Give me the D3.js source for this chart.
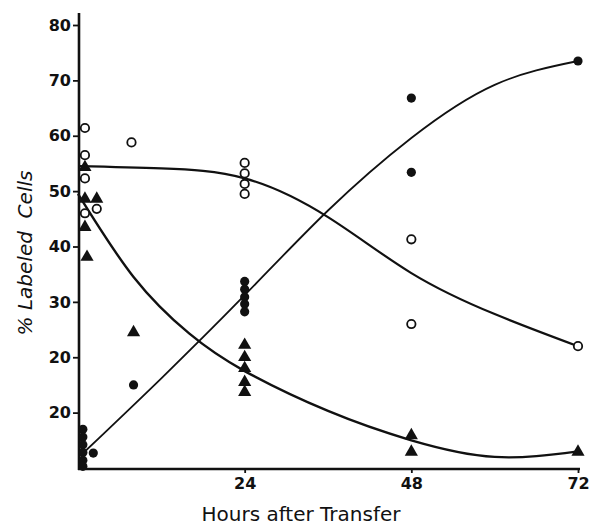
<!DOCTYPE html>
<html>
<head>
<meta charset="utf-8">
<script src="https://cdn.jsdelivr.net/npm/d3@7"></script>
<style>
  html, body { margin: 0; padding: 0; background: #fff; }
  svg { display: block; }
</style>
</head>
<body>
<svg id="chart" width="590" height="527"></svg>
<script>
// ---- data ----
const yTickValues = [10, 20, 30, 40, 50, 60, 70, 80];
const yTickLabels = ["20", "20", "30", "40", "50", "60", "70", "80"]; // as printed in the original
const xTickValues = [24, 48, 72];
const xTickLabels = ["24", "48", "72"];

// open circles: [hours, % labeled]
const openPoints = [
  [1, 61.4], [1, 56.5], [1, 52.3], [1, 46.0], [2.7, 46.8], [7.7, 58.8],
  [24, 55.1], [24, 53.2], [24, 51.3], [24, 49.5],
  [48, 41.3], [48, 26.0], [72, 22.0]
];
// filled circles
const filledPoints = [
  [0.7, 7.0], [0.7, 5.6], [0.7, 4.2], [0.7, 2.8], [0.7, 1.4], [0.7, 0.3],
  [2.2, 2.7], [8, 15.0],
  [24, 33.7], [24, 32.3], [24, 30.9], [24, 29.6], [24, 28.2],
  [48, 66.8], [48, 53.4], [72, 73.5]
];
// filled triangles
const trianglePoints = [
  [1, 54.3], [1, 48.6], [2.7, 48.6], [1, 43.5], [1.3, 38.1], [8, 24.5],
  [24, 22.2], [24, 20.0], [24, 18.0], [24, 15.5], [24, 13.7],
  [48, 5.9], [48, 2.9], [72, 2.9]
];
// fitted curves
const openCurve = [
  [0, 54.5], [12, 54.1], [24, 52.3], [36, 45.3], [48, 35.2], [60, 27.8], [72, 22.0]
];
const filledCurve = [
  [1, 3.0], [12, 16.2], [24, 31.2], [36, 46.5], [48, 59.6], [60, 69.2], [72, 73.5]
];
const triangleCurve = [
  [0, 49.5], [8, 34.5], [16, 24.3], [24, 17.5], [36, 10.3], [48, 5.0], [60, 2.0], [72, 3.0]
];

// ---- layout ----
const svg = d3.select("#chart");
const ink = "#111";
const x = d3.scaleLinear().domain([0, 72]).range([78, 578]);
const y = d3.scaleLinear().domain([0, 80]).range([468, 25]);

// axes
const yAxis = d3.axisLeft(y)
  .tickValues(yTickValues)
  .tickFormat((d, i) => yTickLabels[i])
  .tickSize(6).tickPadding(2);
const gy = svg.append("g").attr("transform", "translate(79,0)").call(yAxis);
gy.select(".domain").remove();
gy.append("line").attr("x1", 0).attr("x2", 0).attr("y1", 13).attr("y2", 470)
  .attr("stroke", ink).attr("stroke-width", 2.6);

const xAxis = d3.axisBottom(x)
  .tickValues(xTickValues)
  .tickFormat((d, i) => xTickLabels[i])
  .tickSize(4).tickPadding(5);
const gx = svg.append("g").attr("transform", "translate(0,469)").call(xAxis);
gx.select(".domain").remove();
gx.append("line").attr("x1", 78).attr("x2", 580).attr("y1", 0).attr("y2", 0)
  .attr("stroke", ink).attr("stroke-width", 2.4);

[gx, gy].forEach(g => {
  g.selectAll(".tick line").attr("stroke", ink).attr("stroke-width", 1.8);
  g.selectAll(".tick text")
    .attr("fill", ink)
    .style("font-family", "'DejaVu Sans', sans-serif")
    .style("font-weight", "bold")
    .style("font-size", "16px");
});

// axis titles
svg.append("text")
  .attr("x", 301).attr("y", 521)
  .attr("text-anchor", "middle")
  .style("font-family", "'DejaVu Sans', sans-serif")
  .style("font-size", "20px")
  .attr("fill", ink)
  .text("Hours after Transfer");

svg.append("text")
  .attr("transform", "translate(32,253) rotate(-90)")
  .attr("text-anchor", "middle")
  .style("font-family", "'DejaVu Sans', sans-serif")
  .style("font-style", "italic")
  .style("font-size", "20px")
  .style("white-space", "pre")
  .attr("fill", ink)
  .text("% Labeled  Cells");

// curves
const line = d3.line().x(d => x(d[0])).y(d => y(d[1])).curve(d3.curveNatural);
svg.append("path").datum(openCurve).attr("d", line)
  .attr("fill", "none").attr("stroke", ink).attr("stroke-width", 2.2);
svg.append("path").datum(filledCurve).attr("d", line)
  .attr("fill", "none").attr("stroke", ink).attr("stroke-width", 1.8);
svg.append("path").datum(triangleCurve).attr("d", line)
  .attr("fill", "none").attr("stroke", ink).attr("stroke-width", 2.4);

// markers
svg.append("g").selectAll("circle").data(filledPoints).join("circle")
  .attr("cx", d => x(d[0])).attr("cy", d => y(d[1])).attr("r", 4.6)
  .attr("fill", ink);

svg.append("g").selectAll("circle").data(openPoints).join("circle")
  .attr("cx", d => x(d[0])).attr("cy", d => y(d[1])).attr("r", 4.2)
  .attr("fill", "#fff").attr("stroke", ink).attr("stroke-width", 1.8);

const tri = d3.symbol().type(d3.symbolTriangle).size(75);
svg.append("g").selectAll("path").data(trianglePoints).join("path")
  .attr("transform", d => `translate(${x(d[0])},${y(d[1])})`)
  .attr("d", tri)
  .attr("fill", ink);
</script>
</body>
</html>
